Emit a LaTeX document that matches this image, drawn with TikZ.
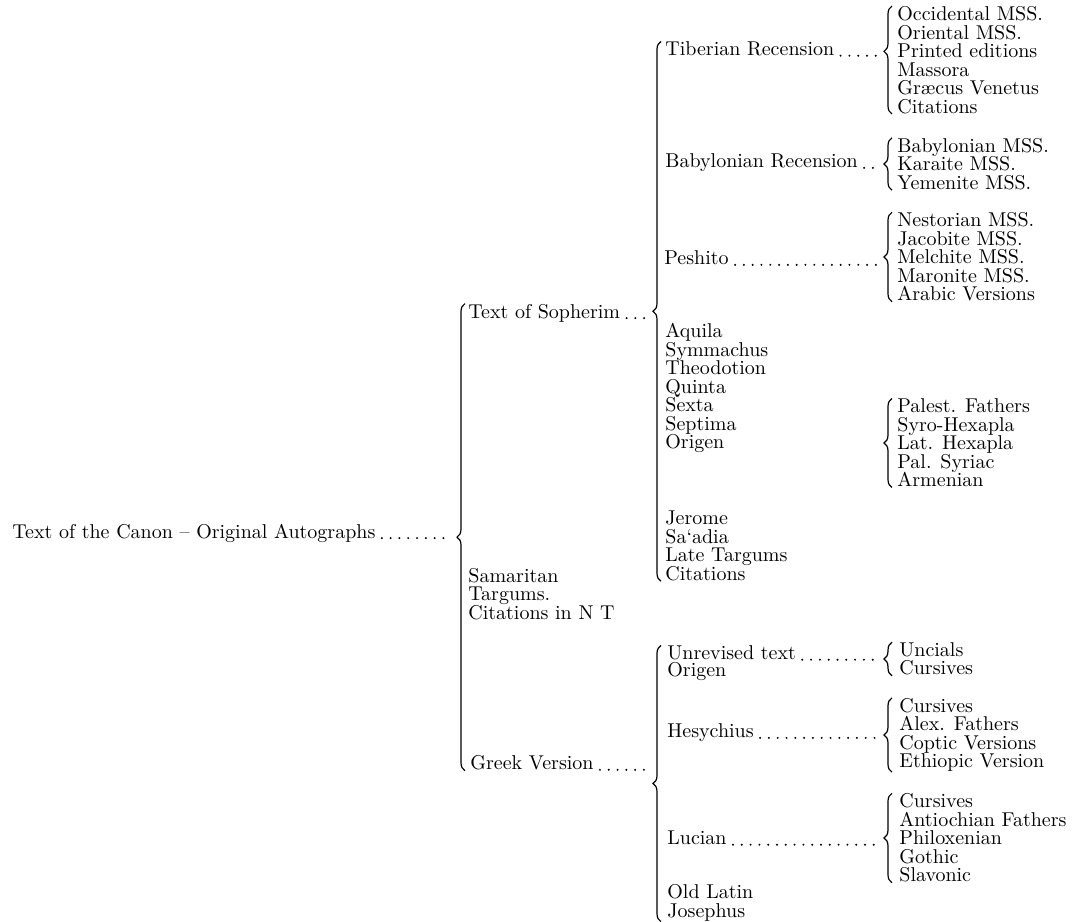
\documentclass[tikz,border=0pt]{standalone}
\usepackage{tikz}
\usetikzlibrary{decorations.pathreplacing, positioning, calc}

\begin{document}
\begin{tikzpicture}[x=0.5pt, y=-0.5pt,
      lbl/.style={anchor=west, inner sep=0pt, align=left,
                  font=\fontsize{10}{9.25}\selectfont},
      brc/.style={decorate, decoration={brace, amplitude=4pt}, line width=0.6pt},
      leader/.style={line width=1.1pt, line cap=round, dash pattern=on 0pt off 4.4pt}]

    \useasboundingbox (0,0) rectangle (1078,922);

    % brace columns and the columns where the dots stop
    \coordinate (b1) at (465,0);  \coordinate (t1) at (450,0);
    \coordinate (b2) at (661,0);  \coordinate (t2) at (646,0);
    \coordinate (b3) at (892,0);  \coordinate (t3) at (877,0);

    % root
    \node[lbl] (canon) at (12,533) {Text of the Canon -- Original Autographs};

    % first division
    \node[lbl] (soph)  at (468,313) {Text of Sopherim};
    \node[lbl] (samar) at (468,594) {Samaritan\\Targums.\\Citations in N T};
    \node[lbl] (greek) at (470,763) {Greek Version};

    % Sopherim
    \node[lbl] (tib)  at (665,49)  {Tiberian Recension};
    \node[lbl] (bab)  at (665,163) {Babylonian Recension};
    \node[lbl] (pesh) at (664,258) {Peshito};
    \node[lbl] (hexa) at (665,388) {Aquila\\Symmachus\\Theodotion\\Quinta\\Sexta\\Septima\\Origen};
    \node[lbl] (late) at (665,546) {Jerome\\Sa\textquoteleft adia\\Late Targums\\Citations};

    \node[lbl] (tibg)  at (897,60)  {Occidental MSS.\\Oriental MSS.\\Printed editions\\Massora\\Gr\ae cus Venetus\\Citations};
    \node[lbl] (babg)  at (897,164) {Babylonian MSS.\\Karaite MSS.\\Yemenite MSS.};
    \node[lbl] (peshg) at (897,257) {Nestorian MSS.\\Jacobite MSS.\\Melchite MSS.\\Maronite MSS.\\Arabic Versions};
    \node[lbl] (palg)  at (897,443) {Palest. Fathers\\Syro-Hexapla\\Lat. Hexapla\\Pal. Syriac\\Armenian};

    % Greek
    \node[lbl] (unrev) at (667,653) {Unrevised text};
    \node[lbl] (orig)  at (667,672) {Origen};
    \node[lbl] (hesy)  at (667,733) {Hesychius};
    \node[lbl] (luc)   at (667,838) {Lucian};
    \node[lbl] (oldl)  at (667,903) {Old Latin\\Josephus};

    \node[lbl] (uncg)  at (899,659) {Uncials\\Cursives};
    \node[lbl] (hesyg) at (899,735) {Cursives\\Alex. Fathers\\Coptic Versions\\Ethiopic Version};
    \node[lbl] (lucg)  at (899,838) {Cursives\\Antiochian Fathers\\Philoxenian\\Gothic\\Slavonic};

    % braces
    \draw[brc] (greek.south -| b1) -- (soph.north -| b1);
    \draw[brc] (late.south -| b2) -- (tib.north -| b2);
    \draw[brc] (oldl.south -| b2) -- (unrev.north -| b2);
    \draw[brc, decoration={aspect=0.58}] (tibg.south -| b3) -- (tibg.north -| b3);
    \foreach \grp in {babg, peshg, palg, uncg, hesyg, lucg}
      \draw[brc] (\grp.south -| b3) -- (\grp.north -| b3);

    % dotted leaders
    \foreach \nd/\tp in {canon/t1, soph/t2, greek/t2, tib/t3, bab/t3, pesh/t3, unrev/t3, hesy/t3, luc/t3}
      \draw[leader] ($(\nd.base east)+(6,0)$) -- (\nd.base east -| \tp);
\end{tikzpicture}
\end{document}
